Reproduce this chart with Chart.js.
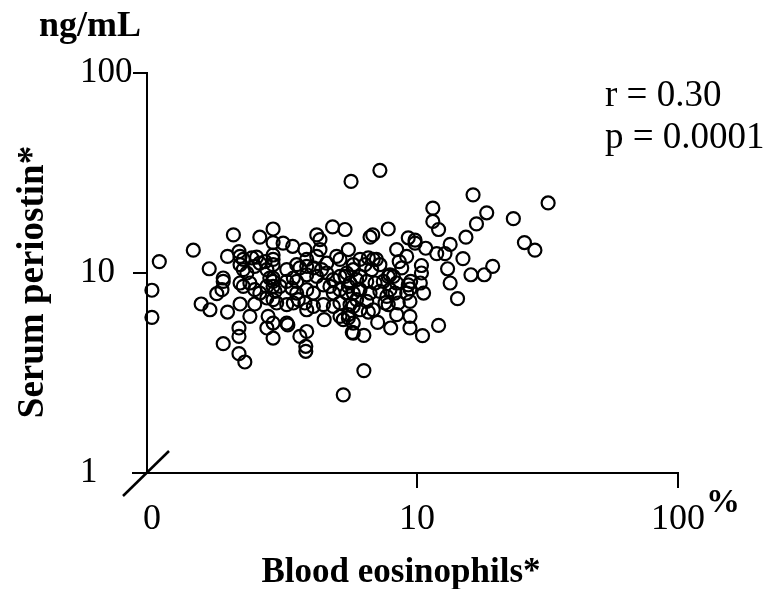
<!DOCTYPE html>
<html>
<head>
<meta charset="utf-8">
<script src="https://cdn.jsdelivr.net/npm/chart.js@4/dist/chart.umd.min.js"></script>
<style>
  body { margin: 0; background: #fff; }
  #grafico { display: block; }
</style>
</head>
<body>
<canvas id="grafico" width="769" height="589"></canvas>
<script>
// eosinophils in %, 0 values are drawn at the "0" slot of the log axis
var eosinophils = [
  0, 0, 1.03, 1.39, 1.60, 1.49, 1.61, 1.71, 1.79, 1.81,
  1.81, 1.88, 1.88, 1.98, 2.08, 2.10, 2.08, 2.08, 2.08, 2.19,
  1.81, 2.29, 2.39, 2.50, 2.66, 2.81, 2.81, 2.81, 3.07, 3.34,
  3.17, 3.20, 3.56, 3.75, 3.75, 4.13, 4.25, 4.75, 5.30, 4.41,
  5.22, 5.46, 5.65, 5.46, 5.59, 7.21, 16.4, 31.8, 11.5, 11.5,
  12.1, 18.5, 16.9, 23.4, 25.8, 28.3, 15.4, 13.4, 15.0, 19.5,
  18.1, 16.1, 13.1, 13.4, 14.3, 12.1, 10.8, 11.9, 12.8, 10.4,
  10.4, 10.3, 10.6, 9.4, 9.4, 9.4, 10.5, 9.26, 9.83, 9.83,
  8.36, 8.55, 7.76, 6.77, 6.61, 6.26, 5.22, 7.93, 7.07, 6.26,
  8.36, 7.76, 7.88, 7.54, 7.76, 6.51, 6.51, 6.80, 6.99, 9.46,
  9.26, 9.40, 5.70, 5.70, 6.80,
  2.10, 2.16, 2.33, 2.43, 2.62, 2.81, 2.81, 2.81, 3.46, 3.72,
  3.78, 4.13, 4.25, 4.51, 4.92, 5.07, 5.70,
  2.10, 2.16, 2.23, 2.39, 2.50, 2.66, 2.73, 2.81, 2.81, 3.17,
  3.36, 3.46, 3.56, 3.78, 3.78, 4.01, 4.13, 4.31, 4.51, 4.78,
  5.07, 5.38, 5.70, 5.87,
  2.10, 2.16, 2.29, 2.39, 2.50, 2.66, 2.81, 2.86, 2.99, 3.17,
  3.31, 3.46, 3.78, 4.01, 4.38, 4.64, 4.78, 5.07, 5.46, 5.70,
  5.96,
  2.66, 2.81, 2.90, 3.17, 3.36, 3.51, 3.72, 3.78, 4.01, 4.38,
  4.78, 5.07, 5.07, 5.46, 5.70,
  2.69, 2.81, 3.78,
  6.05, 6.32, 6.71, 7.21, 6.05, 6.42, 6.91, 7.43, 8.12, 8.36,
  6.05, 6.61, 7.21, 7.88, 8.24, 5.87, 6.42, 7.66, 5.54, 6.05,
  5.38, 5.54, 5.30, 8.48, 9.13, 8.74, 9.13
];

// serum periostin in ng/mL
var periostin = [
  8.2, 6.0, 11.4, 13.0, 10.5, 7.0, 6.55, 7.88, 8.25, 9.08,
  9.44, 6.38, 12.1, 15.5, 12.8, 7.0, 5.31, 4.82, 3.95, 3.59,
  4.43, 6.07, 7.0, 15.1, 5.31, 4.73, 16.6, 14.2, 14.1, 13.6,
  5.62, 5.5, 4.82, 4.30, 4.06, 15.5, 14.7, 17.0, 16.5, 5.84,
  5.84, 5.96, 5.05, 13.1, 28.7, 32.6, 24.6, 22.4, 21.1, 18.1,
  16.5, 20.0, 17.6, 18.7, 14.2, 13.0, 15.1, 13.9, 11.8, 10.8,
  9.8, 9.8, 10.5, 8.91, 7.44, 5.47, 13.3, 12.5, 12.5, 10.9,
  10.0, 8.91, 7.94, 7.21, 6.07, 5.31, 4.86, 15.0, 14.6, 14.1,
  13.1, 11.4, 16.6, 15.5, 15.1, 3.25, 2.46, 5.31, 5.66, 4.88,
  6.19, 9.61, 9.8, 7.08, 6.95, 6.38, 11.9, 11.7, 11.7, 9.08,
  8.72, 8.32, 5.01, 5.62, 6.55,
  12.1, 11.7, 11.9, 12.0, 11.4, 12.3, 11.7, 11.0, 11.0, 13.1,
  11.7, 12.1, 13.1, 11.2, 12.1, 11.7, 11.0,
  11.0, 10.4, 10.0, 10.8, 11.2, 10.4, 9.44, 9.44, 9.08, 10.4,
  9.44, 9.08, 10.6, 10.8, 9.8, 10.6, 9.61, 10.4, 10.0, 9.26,
  9.61, 10.0, 10.4, 9.26,
  8.91, 8.57, 8.91, 8.25, 7.94, 8.57, 8.57, 8.09, 8.57, 9.08,
  8.41, 7.94, 8.25, 7.94, 8.72, 8.57, 7.94, 8.25, 8.57, 7.94,
  8.25,
  7.5, 7.36, 7.08, 6.95, 7.08, 7.36, 7.08, 6.55, 6.81, 6.95,
  6.81, 7.08, 6.07, 6.19, 6.81,
  6.07, 5.62, 5.1,
  11.7, 11.0, 10.4, 11.0, 9.61, 9.08, 8.91, 9.08, 9.61, 8.91,
  8.25, 7.94, 8.09, 8.25, 7.94, 7.36, 7.21, 7.64, 6.95, 6.55,
  7.94, 8.91, 9.61, 7.08, 7.94, 10.6, 12.1
];

var zeroAt = 0.965;              // where "0" sits on the log x axis
var xTicks = [zeroAt, 10, 100];
var xTickLabels = ["0", "10", "100"];
var yTicks = [1, 10, 100];
var yTickLabels = ["1", "10", "100"];

var pontos = [];
for (var i = 0; i < eosinophils.length; i++) {
  pontos.push({ x: eosinophils[i] == 0 ? zeroAt : eosinophils[i], y: periostin[i] });
}

var fonteSerif = "'Liberation Serif', 'Times New Roman', serif";

var textos = {
  id: "textos",
  afterDraw: function (chart) {
    var c = chart.ctx;
    var area = chart.chartArea;
    var yUm = chart.scales.y.getPixelForValue(1);
    c.save();
    c.fillStyle = "#000";
    c.strokeStyle = "#000";

    // tick at y = 1 (continues the x axis to the left)
    c.lineWidth = 2;
    c.beginPath();
    c.moveTo(area.left - 15, yUm);
    c.lineTo(area.left, yUm);
    c.stroke();

    // axis break slash at the origin
    c.lineWidth = 2.5;
    c.beginPath();
    c.moveTo(area.left - 24, area.bottom + 23);
    c.lineTo(area.left + 22, area.bottom - 22);
    c.stroke();

    c.font = "bold 36px " + fonteSerif;
    c.textAlign = "left";
    c.textBaseline = "alphabetic";
    c.fillText("ng/mL", 39, 36);

    c.font = "bold 34px " + fonteSerif;
    c.fillText("%", 706, 512);

    c.font = "bold 35px " + fonteSerif;
    c.textAlign = "center";
    c.fillText("Blood eosinophils*", 401, 582);

    c.font = "bold 37px " + fonteSerif;
    c.save();
    c.translate(43, 282);
    c.rotate(-Math.PI / 2);
    c.fillText("Serum periostin*", 0, 0);
    c.restore();

    c.font = "37px " + fonteSerif;
    c.textAlign = "left";
    c.fillText("r = 0.30", 605, 106);
    c.fillText("p = 0.0001", 605, 148);
    c.restore();
  }
};

var ctx = document.getElementById("grafico").getContext("2d");

var grafico = new Chart(ctx, {
  type: "scatter",
  data: {
    datasets: [
      {
        label: "periostin",
        data: pontos,
        pointStyle: "circle",
        pointRadius: 6.5,
        pointHoverRadius: 6.5,
        borderWidth: 2.2,
        borderColor: "#000",
        backgroundColor: "rgba(0,0,0,0)",
        clip: false,
      },
    ],
  },
  options: {
    responsive: false,
    animation: false,
    devicePixelRatio: 1,
    layout: { padding: { top: 73, right: 91, left: 80, bottom: 0 } },
    plugins: {
      legend: { display: false },
      tooltip: { enabled: false },
    },
    scales: {
      x: {
        type: "logarithmic",
        min: 0.924,
        max: 100,
        afterBuildTicks: function (scale) {
          scale.ticks = xTicks.map(function (v) { return { value: v }; });
        },
        afterFit: function (scale) {
          scale.height = 116;
        },
        grid: {
          drawOnChartArea: false,
          drawTicks: true,
          tickLength: 15,
          lineWidth: 2,
          color: function (c) {
            return c.tick && c.tick.value < 1 ? "rgba(0,0,0,0)" : "#000";
          },
        },
        border: { display: true, color: "#000", width: 2 },
        ticks: {
          autoSkip: false,
          maxRotation: 0,
          padding: 10,
          color: "#000",
          font: { size: 36, family: fonteSerif },
          callback: function (value, index) {
            return xTickLabels[index];
          },
        },
      },
      y: {
        type: "logarithmic",
        min: 1,
        max: 100,
        afterBuildTicks: function (scale) {
          scale.ticks = yTicks.map(function (v) { return { value: v }; });
        },
        afterFit: function (scale) {
          scale.width = 67;
        },
        grid: {
          drawOnChartArea: false,
          drawTicks: true,
          tickLength: 14,
          lineWidth: 2,
          color: "#000",
        },
        border: { display: true, color: "#000", width: 2 },
        ticks: {
          autoSkip: false,
          crossAlign: "far",
          padding: 2,
          color: "#000",
          font: { size: 35, family: fonteSerif },
          callback: function (value, index) {
            return yTickLabels[index];
          },
        },
      },
    },
  },
  plugins: [textos],
});
</script>
</body>
</html>
